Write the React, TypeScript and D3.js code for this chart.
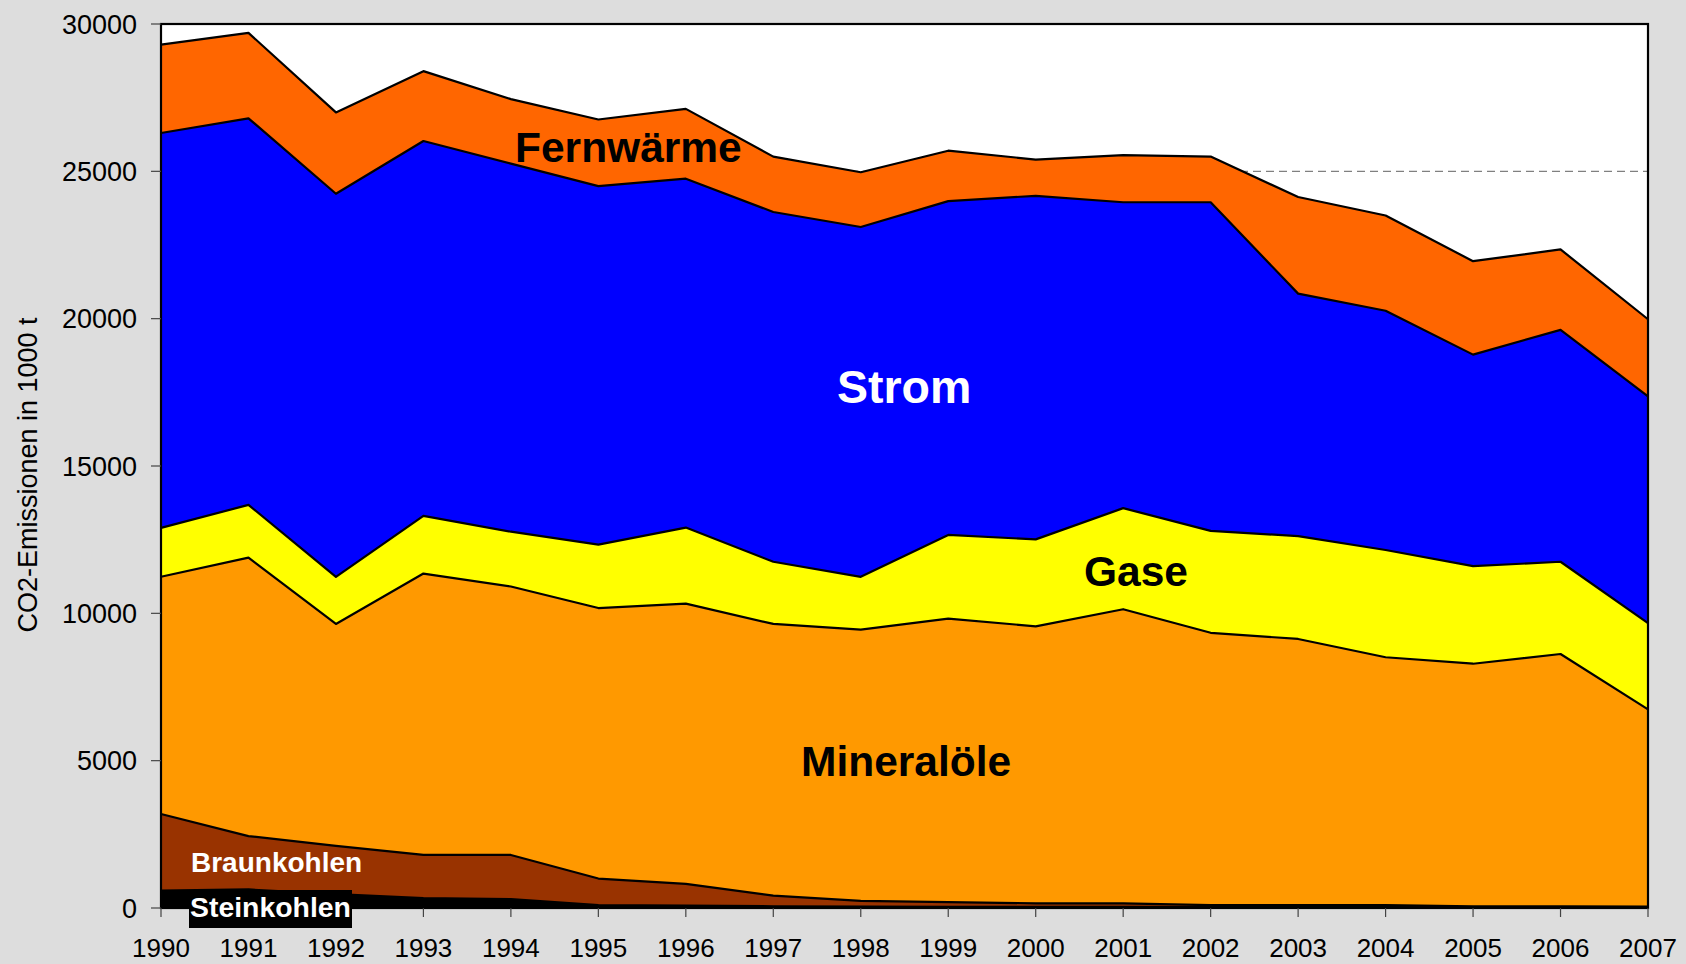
import React from 'react';
import * as d3 from 'd3';

const width = 1686;
const height = 964;
const margin = { left: 161, right: 1648, top: 24, bottom: 908 };
const font = "'Liberation Sans', Arial, Helvetica, sans-serif";

const years = [1990, 1991, 1992, 1993, 1994, 1995, 1996, 1997, 1998, 1999, 2000, 2001, 2002, 2003, 2004, 2005, 2006, 2007];

// CO2 emissions in 1000 t by energy source
const steinkohlen = [590, 630, 470, 340, 300, 100, 80, 60, 50, 40, 40, 40, 30, 30, 30, 20, 20, 20];
const braunkohlen = [2600, 1810, 1640, 1460, 1500, 900, 740, 360, 190, 160, 120, 120, 70, 70, 70, 40, 40, 30];
const mineraloele = [8050, 9450, 7530, 9550, 9110, 9180, 9510, 9220, 9210, 9620, 9400, 9980, 9240, 9030, 8410, 8230, 8560, 6690];
const gase = [1660, 1790, 1600, 1960, 1860, 2150, 2580, 2110, 1790, 2840, 2950, 3430, 3460, 3490, 3640, 3310, 3130, 2930];
const strom = [13400, 13120, 13000, 12720, 12490, 12170, 11840, 11870, 11870, 11330, 11660, 10380, 11150, 8230, 8120, 7180, 7870, 7690];
const fernwaerme = [3000, 2900, 2760, 2370, 2190, 2260, 2370, 1880, 1860, 1710, 1230, 1600, 1550, 3280, 3230, 3170, 2730, 2620];

const keys = ['Steinkohlen', 'Braunkohlen', 'Mineralöle', 'Gase', 'Strom', 'Fernwärme'];
const colors = ['#000000', '#993300', '#FF9900', '#FFFF00', '#0000FF', '#FF6600'];
const yTicks = [0, 5000, 10000, 15000, 20000, 25000, 30000];

const rows = years.map((year, i) => ({
  year,
  Steinkohlen: steinkohlen[i],
  Braunkohlen: braunkohlen[i],
  'Mineralöle': mineraloele[i],
  Gase: gase[i],
  Strom: strom[i],
  'Fernwärme': fernwaerme[i],
}));

const x = d3.scaleLinear().domain([1990, 2007]).range([margin.left, margin.right]);
const y = d3.scaleLinear().domain([0, 30000]).range([margin.bottom, margin.top]);

const series = d3.stack<any>().keys(keys)(rows);

const areaGen = d3.area<any>()
  .x(d => x(d.data.year))
  .y0(d => y(d[0]))
  .y1(d => y(d[1]));

const lineGen = d3.line<any>()
  .x(d => x(d.data.year))
  .y(d => y(d[1]));

export default function App() {
  return (
    <svg width={width} height={height} style={{ position: 'absolute', left: 0, top: 0, background: '#DDDDDD' }}>
      <rect x={margin.left} y={margin.top} width={margin.right - margin.left} height={margin.bottom - margin.top} fill='white' />
      {yTicks.slice(1, -1).map(t => (
        <line key={t} x1={margin.left} x2={margin.right} y1={y(t)} y2={y(t)}
          stroke='#808080' strokeWidth={1.3} strokeDasharray='8,5' />
      ))}
      {series.map((s, i) => (
        <path key={keys[i]} d={areaGen(s) as string} fill={colors[i]} />
      ))}
      {series.map((s, i) => (
        <path key={'l' + keys[i]} d={lineGen(s) as string} fill='none' stroke='black' strokeWidth={2.2} strokeLinejoin='round' />
      ))}
      {/* frame */}
      <rect x={margin.left} y={margin.top} width={margin.right - margin.left} height={margin.bottom - margin.top}
        fill='none' stroke='black' strokeWidth={2.2} />
      {/* y axis */}
      {yTicks.map(t => (
        <g key={t}>
          <line x1={margin.left - 10} x2={margin.left} y1={y(t)} y2={y(t)} stroke='#444' strokeWidth={1.2} />
          <text x={137} y={y(t)} dy='0.36em' textAnchor='end' fontFamily={font} fontSize={27} fill='black'>{t}</text>
        </g>
      ))}
      {/* x axis */}
      {years.map(yr => (
        <g key={yr}>
          <line x1={x(yr)} x2={x(yr)} y1={margin.bottom} y2={margin.bottom + 9} stroke='#444' strokeWidth={1.2} />
          <text x={x(yr)} y={957} textAnchor='middle' fontFamily={font} fontSize={26} fill='black'>{yr}</text>
        </g>
      ))}
      <text transform={`translate(37, ${(margin.top + margin.bottom) / 2 + 9}) rotate(-90)`} textAnchor='middle'
        fontFamily={font} fontSize={27} fill='black'>CO2-Emissionen in 1000 t</text>
      {/* series labels */}
      <text x={515} y={162} fontFamily={font} fontSize={42.5} fontWeight='bold' fill='black'>Fernwärme</text>
      <text x={837} y={403} fontFamily={font} fontSize={46.5} fontWeight='bold' fill='white'>Strom</text>
      <text x={1084} y={586} fontFamily={font} fontSize={42.5} fontWeight='bold' fill='black'>Gase</text>
      <text x={801} y={776} fontFamily={font} fontSize={42.5} fontWeight='bold' fill='black'>Mineralöle</text>
      <text x={191} y={872} fontFamily={font} fontSize={28} fontWeight='bold' fill='white'>Braunkohlen</text>
      <rect x={189} y={890} width={163} height={38} fill='black' />
      <text x={190} y={917} fontFamily={font} fontSize={28.4} fontWeight='bold' fill='white'>Steinkohlen</text>
    </svg>
  );
}
